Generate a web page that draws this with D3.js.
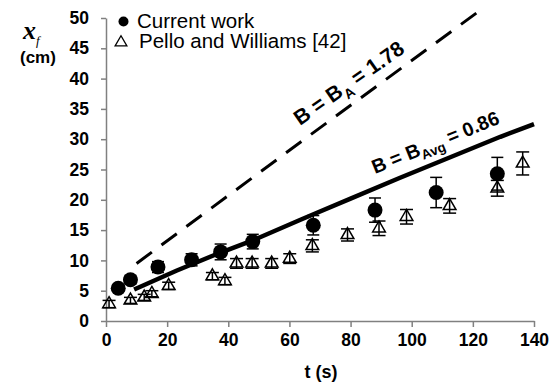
<!DOCTYPE html>
<html>
<head>
<meta charset="utf-8">
<script src="https://cdn.jsdelivr.net/npm/d3@7"></script>
<style>
  body { margin: 0; background: #fff; }
  svg { display: block; font-family: Arial, "Liberation Sans", sans-serif; }
</style>
</head>
<body>
<svg id="drawing_region"></svg>
<script>
// current work (filled circles)
const curT = [4, 8, 17, 28, 37.5, 48, 67.8, 88, 108, 128];
const curX = [5.4, 6.8, 8.9, 10.1, 11.4, 13.1, 15.8, 18.3, 21.2, 24.3];
const curErr = [0.5, 0.7, 0.9, 1.0, 1.3, 1.2, 1.6, 2.0, 2.5, 2.7];

// Pello and Williams [42] (open triangles)
const pelT = [1, 8, 12.5, 15, 20.5, 34.8, 38.9, 42.7, 47.8, 54.2, 60.1, 67.5, 79, 89.3, 98.3, 112.4, 128, 136.3];
const pelX = [2.8, 3.4, 3.9, 4.5, 5.8, 7.4, 6.6, 9.5, 9.5, 9.5, 10.3, 12.4, 14.2, 15.3, 17.2, 19.0, 21.9, 26.0];
const pelErr = [0.6, 0.5, 0.5, 0.5, 0.6, 0.6, 0.6, 0.8, 0.8, 0.8, 0.8, 1.0, 1.0, 1.2, 1.2, 1.2, 1.3, 1.9];

// model curves
const avgT = [9.2, 23, 37.5, 48, 64, 80, 96, 112, 129, 140];
const avgX = [5.2, 8.3, 11.3, 13.3, 16.8, 20.2, 23.6, 26.9, 30.4, 32.5];
const baT = [10, 66, 122.2];
const baX = [9.5, 30.4, 51.2];

const xTicks = [0, 20, 40, 60, 80, 100, 120, 140];
const yTicks = [0, 5, 10, 15, 20, 25, 30, 35, 40, 45, 50];

const width = 553, height = 387;
const svg = d3.select('#drawing_region')
    .attr('width', width)
    .attr('height', height);

const xscale = d3.scaleLinear().domain([0, 140]).range([106, 534]);
const yscale = d3.scaleLinear().domain([0, 50]).range([321, 18]);

const cur = curT.map((t, i) => ({ t: t, x: curX[i], e: curErr[i] }));
const pel = pelT.map((t, i) => ({ t: t, x: pelX[i], e: pelErr[i] }));
const avg = avgT.map((t, i) => ({ t: t, x: avgX[i] }));
const ba = baT.map((t, i) => ({ t: t, x: baX[i] }));

// axes
const xaxis = d3.axisBottom(xscale).tickValues(xTicks).tickSize(6).tickSizeOuter(0).tickPadding(7);
const yaxis = d3.axisLeft(yscale).tickValues(yTicks).tickSize(5).tickSizeOuter(0).tickPadding(12);

const xg = svg.append('g').attr('transform', `translate(0, ${yscale(0)})`).call(xaxis);
const yg = svg.append('g').attr('transform', `translate(${xscale(0)}, 0)`).call(yaxis);

[xg, yg].forEach(g => {
    g.select('.domain').attr('stroke', '#808080').attr('stroke-width', 1.5);
    g.selectAll('.tick line').attr('stroke', '#808080').attr('stroke-width', 1.5);
    g.selectAll('.tick text')
        .attr('fill', '#000')
        .style('font-size', '17.5px')
        .style('font-weight', 'bold')
        .style('font-family', 'Arial, "Liberation Sans", sans-serif');
});

// axis titles
svg.append('text')
    .attr('x', 321).attr('y', 378)
    .attr('text-anchor', 'middle')
    .style('font-size', '18px').style('font-weight', 'bold')
    .text('t (s)');

const xf = svg.append('text')
    .attr('x', 23).attr('y', 39)
    .style('font-family', '"Liberation Serif", "Times New Roman", serif')
    .style('font-style', 'italic').style('font-weight', 'bold')
    .style('font-size', '26px');
xf.append('tspan').text('x');
xf.append('tspan').attr('dy', 6).style('font-size', '13px').style('font-weight', 'normal').text('f');

svg.append('text')
    .attr('x', 20).attr('y', 63)
    .style('font-size', '17px').style('font-weight', 'bold')
    .text('(cm)');

// lines
const line = d3.line().x(d => xscale(d.t)).y(d => yscale(d.x));

svg.append('path')
    .datum(ba)
    .attr('d', line)
    .attr('fill', 'none')
    .attr('stroke', '#000')
    .attr('stroke-width', 3)
    .attr('stroke-dasharray', '19,12');

svg.append('path')
    .datum(avg)
    .attr('d', line)
    .attr('fill', 'none')
    .attr('stroke', '#000')
    .attr('stroke-width', 4.5);

// curve labels
const la = svg.append('text')
    .attr('transform', 'translate(300,126) rotate(-35)')
    .style('font-size', '21px').style('font-weight', 'bold');
la.append('tspan').text('B = B');
la.append('tspan').attr('dy', 6).style('font-size', '14px').text('A');
la.append('tspan').attr('dy', -6).text(' = 1.78');

const lb = svg.append('text')
    .attr('transform', 'translate(375,174) rotate(-22)')
    .style('font-size', '19.5px').style('font-weight', 'bold');
lb.append('tspan').text('B = B');
lb.append('tspan').attr('dy', 5).style('font-size', '13.5px').text('Avg');
lb.append('tspan').attr('dy', -5).text(' = 0.86');

// error bars
function errorBars(data, cap) {
    const g = svg.append('g').attr('stroke', '#000').attr('stroke-width', 1.5);
    g.selectAll('line.v').data(data).join('line')
        .attr('class', 'v')
        .attr('x1', d => xscale(d.t)).attr('x2', d => xscale(d.t))
        .attr('y1', d => yscale(d.x - d.e)).attr('y2', d => yscale(d.x + d.e));
    g.selectAll('line.top').data(data).join('line')
        .attr('class', 'top')
        .attr('x1', d => xscale(d.t) - cap).attr('x2', d => xscale(d.t) + cap)
        .attr('y1', d => yscale(d.x + d.e)).attr('y2', d => yscale(d.x + d.e));
    g.selectAll('line.bot').data(data).join('line')
        .attr('class', 'bot')
        .attr('x1', d => xscale(d.t) - cap).attr('x2', d => xscale(d.t) + cap)
        .attr('y1', d => yscale(d.x - d.e)).attr('y2', d => yscale(d.x - d.e));
}

errorBars(pel, 6.5);
errorBars(cur, 6);

const tri = d3.symbol(d3.symbolTriangle, 70);

svg.append('g').selectAll('path').data(pel).join('path')
    .attr('d', tri)
    .attr('transform', d => `translate(${xscale(d.t)}, ${yscale(d.x)})`)
    .attr('fill', 'none')
    .attr('stroke', '#000')
    .attr('stroke-width', 1.5);

svg.append('g').selectAll('circle').data(cur).join('circle')
    .attr('cx', d => xscale(d.t))
    .attr('cy', d => yscale(d.x))
    .attr('r', 7.5)
    .attr('fill', '#000');

// legend
svg.append('circle').attr('cx', 123.5).attr('cy', 21.5).attr('r', 5).attr('fill', '#000');
svg.append('text').attr('x', 137).attr('y', 28)
    .style('font-size', '20.5px').text('Current work');
svg.append('path')
    .attr('d', d3.symbol(d3.symbolTriangle, 60))
    .attr('transform', 'translate(121, 42.5)')
    .attr('fill', 'none').attr('stroke', '#000').attr('stroke-width', 1.3);
svg.append('text').attr('x', 139).attr('y', 48)
    .style('font-size', '20.5px').text('Pello and Williams [42]');
</script>
</body>
</html>
